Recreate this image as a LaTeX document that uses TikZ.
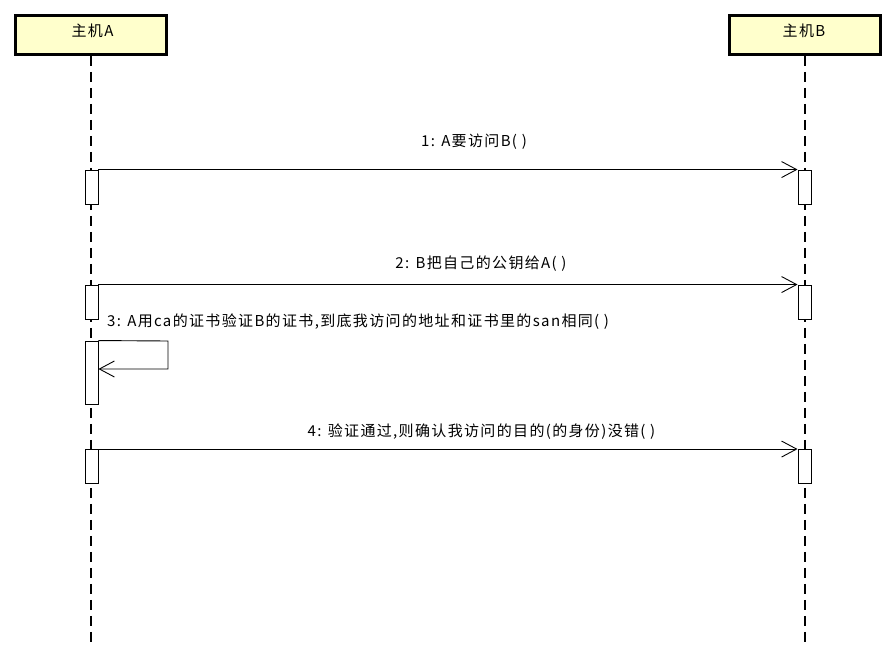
\documentclass[tikz,border=0pt]{standalone}
\usepackage{fontspec}
\setmainfont{Noto Sans CJK SC}[LetterSpace=9]
\usetikzlibrary{arrows.meta}
\begin{document}
\begin{tikzpicture}[x=1pt,y=-1pt,
  actor/.style={draw=black,line width=2.8pt,fill=actorfill,minimum width=151pt,minimum height=39pt,inner sep=0pt},
  actortext/.style={inner sep=0pt,font=\fontsize{15}{17}\selectfont},
  lifeline/.style={draw=black,line width=1.3pt,dash pattern=on 10pt off 6pt},
  act/.style={draw=black,line width=0.9pt,fill=white,minimum width=13pt,inner sep=0pt},
  msg/.style={draw=black,line width=0.9pt},
  arr/.style={-{Straight Barb[length=15pt,width=16pt,line width=0.9pt]}},
  lbl/.style={font=\fontsize{15}{17}\selectfont,inner sep=0pt}]
\definecolor{actorfill}{HTML}{FFFFCC}
\useasboundingbox (0,0) rectangle (895,658);
\node[actor] (A) at (91,35) {};
\node[actor] (B) at (805,35) {};
\node[actortext] (At) at (92.5,31) {主机A};
\node[actortext] (Bt) at (804,31) {主机B};
\coordinate (Aend) at (91,645);
\coordinate (Bend) at (805,645);
\draw[lifeline] (A.south) -- (Aend);
\draw[lifeline] (B.south) -- (Bend);
% activations
\node[act,minimum height=34pt] (a1) at (91.5,187) {};
\node[act,minimum height=34pt] (b1) at (804.5,187) {};
\node[act,minimum height=34pt] (a2) at (91.5,302) {};
\node[act,minimum height=34pt] (b2) at (804.5,302) {};
\node[act,minimum height=63pt] (a3) at (91.5,372.5) {};
\node[act,minimum height=34pt] (a4) at (91.5,466.5) {};
\node[act,minimum height=34pt] (b4) at (804.5,466.5) {};
% messages
\draw[msg,arr] (a1.north east) -- (b1.north west);
\node[lbl] (l1) at (474,142) {1: A要访问B( )};
\draw[msg,arr] (a2.north east) -- (b2.north west);
\node[lbl] (l2) at (481,264) {2: B把自己的公钥给A( )};
\coordinate (s1) at (168,341);
\coordinate (s2) at (168,369);
\draw[msg,arr] (a3.north east) -- (s1) -- (s2) -- (a3.east |- s2);
\node[lbl,anchor=west] (l3) at (107,322) {3: A用ca的证书验证B的证书,到底我访问的地址和证书里的san相同( )};
\draw[msg,arr] (a4.north east) -- (b4.north west);
\node[lbl] (l4) at (481.5,432) {4: 验证通过,则确认我访问的目的(的身份)没错( )};
\end{tikzpicture}
\end{document}
